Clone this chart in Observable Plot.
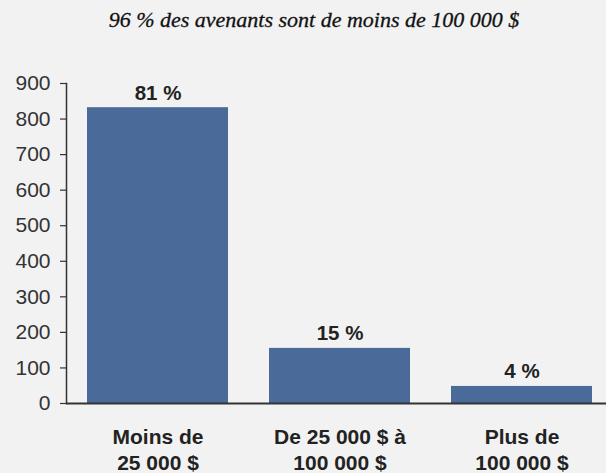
<!DOCTYPE html>
<html><head><meta charset="utf-8">
<script src="https://cdn.jsdelivr.net/npm/d3@7"></script>
<script src="https://cdn.jsdelivr.net/npm/@observablehq/plot@0.6"></script>
<style>
html,body{margin:0;padding:0;background:#f2f2f2;}
#title{height:40px;line-height:40px;text-align:center;font-family:"Liberation Serif",serif;font-style:italic;font-weight:normal;font-size:22px;color:#111;padding-left:22px;-webkit-text-stroke:0.3px #111;}
</style></head>
<body>
<div id="title">96 % des avenants sont de moins de 100 000 $</div>
<div id="chart"></div>
<script>
const categories = ["Moins de\n25 000 $", "De 25 000 $ à\n100 000 $", "Plus de\n100 000 $"];
const values = [832, 155, 48];
const labels = ["81 %", "15 %", "4 %"];
const yTicks = [0,100,200,300,400,500,600,700,800,900];

const data = categories.map((c,i)=>({cat:c, v:values[i], lab:labels[i]}));

const chart = Plot.plot({
  width: 606, height: 433,
  marginLeft: 66, marginRight: 0, marginTop: 43, marginBottom: 70,
  style: {background: "#f2f2f2", fontFamily: "'Liberation Sans', Arial, sans-serif", color: "#333"},
  x: {domain: categories, range: [66, 613], padding: 0.225, paddingOuter: 0.109, label: null},
  y: {domain: [0, 900], label: null},
  marks: [
    Plot.barY(data, {x: "cat", y: "v", fill: "#4a6b9a"}),
    Plot.text(data, {x: "cat", y: "v", text: "lab", lineAnchor: "bottom", dy: -8, fontSize: 20.5, fontWeight: "bold", fill: "#222"}),
    Plot.axisY({ticks: yTicks, tickSize: 6, tickPadding: 10, fontSize: 21, stroke: "#333", fill: "#333", strokeWidth: 1.2}),
    Plot.axisX({tickSize: 0, tickPadding: 23, fontSize: 21, fontWeight: "bold", lineHeight: 1.2, fill: "#222"}),
    Plot.frame({anchor: "left", stroke: "#333", strokeWidth: 1.5}),
    Plot.ruleY([0], {stroke: "#333", strokeWidth: 2})
  ]
});
document.getElementById("chart").appendChild(chart);
</script>
</body></html>
